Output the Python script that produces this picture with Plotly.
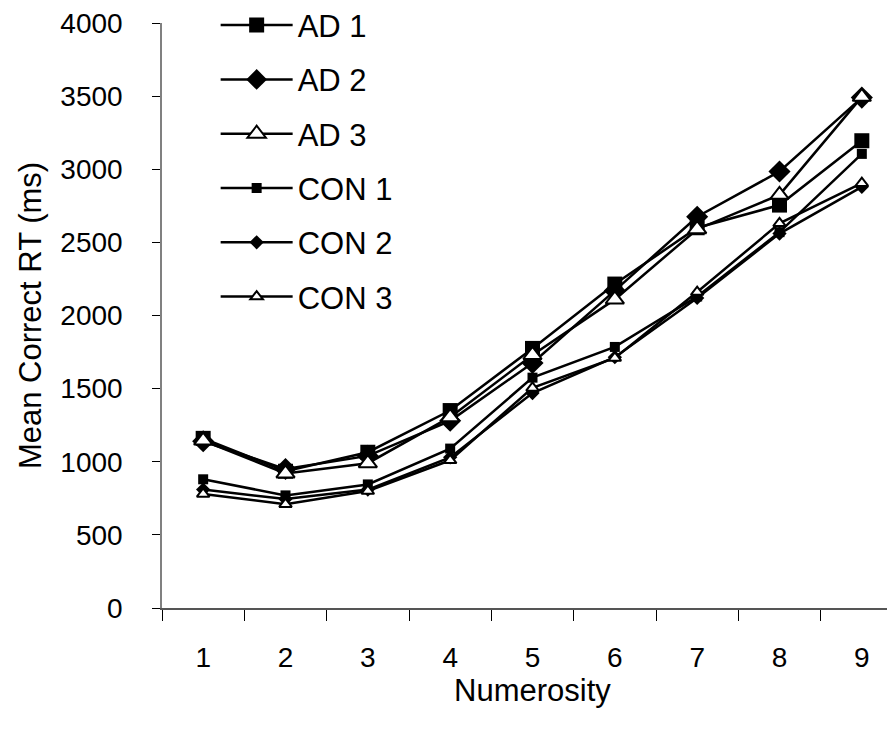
import plotly.graph_objects as go

numerosity = [1, 2, 3, 4, 5, 6, 7, 8, 9]
ad1 = [1160, 935, 1065, 1350, 1775, 2215, 2600, 2755, 3195]
ad2 = [1140, 950, 1040, 1280, 1675, 2170, 2675, 2985, 3490]
ad3 = [1145, 920, 990, 1305, 1730, 2110, 2590, 2825, 3495]
con1 = [880, 770, 845, 1090, 1575, 1785, 2130, 2570, 3105]
con2 = [810, 745, 810, 1030, 1470, 1715, 2120, 2560, 2880]
con3 = [780, 710, 800, 1010, 1505, 1710, 2160, 2630, 2905]

series = [
    ("AD 1", ad1, "square", 15, "black"),
    ("AD 2", ad2, "diamond", 17, "black"),
    ("AD 3", ad3, "triangle-up", 16, "white"),
    ("CON 1", con1, "square", 10, "black"),
    ("CON 2", con2, "diamond", 11, "black"),
    ("CON 3", con3, "triangle-up", 11, "white"),
]

fig = go.Figure()
for i, (name, vals, sym, size, fill) in enumerate(series):
    fig.add_trace(go.Scatter(
        x=numerosity, y=vals, name=name, mode="lines+markers",
        line=dict(color="black", width=2.5),
        marker=dict(symbol=sym, size=size, color=fill,
                    line=dict(color="black", width=2 if fill == "white" else 0)),
        legendgroup=name,
    ))

font = "Liberation Sans, Arial, sans-serif"
fig.update_layout(
    width=895, height=742,
    margin=dict(l=154, r=0, t=15, b=142, autoexpand=False),
    paper_bgcolor="white", plot_bgcolor="white",
    font=dict(family=font, size=28, color="black"),
    showlegend=True,
    legend=dict(x=0.0724, y=1.042, xanchor="left", yanchor="top",
                bgcolor="rgba(0,0,0,0)", font=dict(size=31),
                tracegroupgap=11, itemwidth=72),
    xaxis=dict(
        range=[0.5, 9.5], tickmode="array", tickvals=numerosity,
        ticktext=[str(v) for v in numerosity], ticks="",
        ticklabelstandoff=24, tickfont=dict(size=28), automargin=False,
        ticklabeloverflow="allow",
        showgrid=False, zeroline=False, showline=True,
        linecolor="#555555", linewidth=1.5,
        minor=dict(tickmode="linear", tick0=0.5, dtick=1, ticks="outside",
                   ticklen=11, tickcolor="black", tickwidth=1, showgrid=False),
        title=dict(text="Numerosity", standoff=7, font=dict(size=31)),
    ),
    yaxis=dict(
        range=[0, 4000], dtick=500, tick0=0,
        ticks="outside", ticklen=8, tickcolor="black", tickwidth=1,
        ticklabelstandoff=24, tickfont=dict(size=28), automargin=False,
        ticklabeloverflow="allow",
        showgrid=False, zeroline=False, showline=True,
        linecolor="#808080", linewidth=1.5,
        title=dict(text="Mean Correct RT (ms)", standoff=10, font=dict(size=31)),
    ),
)

fig.write_html("out.html")
